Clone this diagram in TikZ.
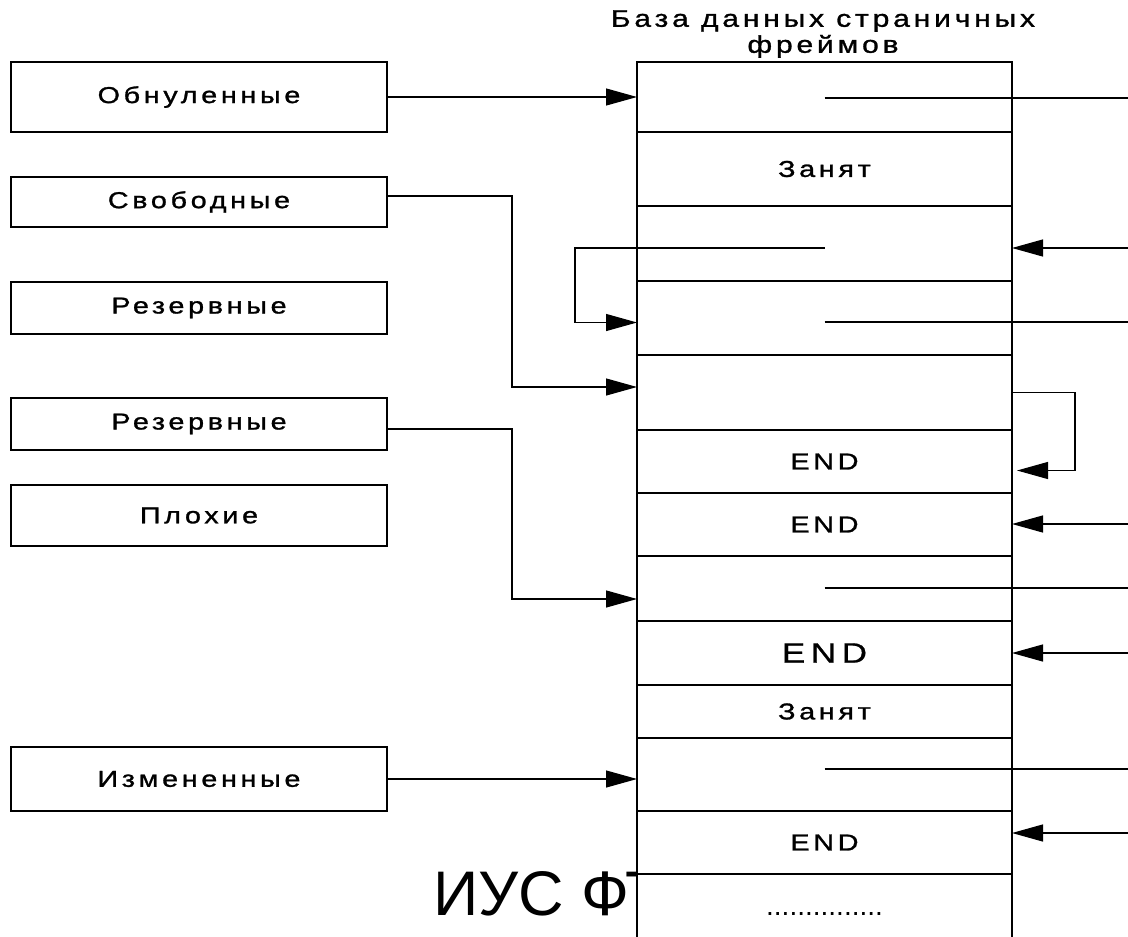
\documentclass[tikz,border=0pt]{standalone}
\usepackage{fontspec}
\setmainfont{Liberation Sans}
\newfontfamily\spc{Liberation Sans}[LetterSpace=16,FakeStretch=1.25,FakeBold=1.2]
\newfontfamily\spcmid{Liberation Sans}[LetterSpace=20,FakeStretch=1.25,FakeBold=0.8]
\usetikzlibrary{arrows.meta}
\begin{document}
\begin{tikzpicture}[x=1pt,y=-1pt,
  lst/.style={draw,line width=1.2pt,minimum width=376pt,inner sep=0pt,outer sep=0pt,
    font=\spc\fontsize{23}{27}\selectfont},
  frame/.style={draw,fill=white,line width=1.2pt,minimum width=375pt,inner sep=0pt,outer sep=0pt,
    font=\spc\fontsize{23}{27}\selectfont},
  link/.style={line width=1.2pt},
  arr/.style={line width=1.2pt,-{Triangle[length=31pt,width=17pt]}}]
\clip (0,0) rectangle (1128,937);
\fill[white] (0,0) rectangle (1128,937);

% heading of the frame database
\node[align=center,font=\spc\fontsize{24}{26}\selectfont] (title) at (823,34)
  {База данных страничных\\фреймов};

% large caption, partly hidden behind the column
\node[anchor=base west,inner sep=0pt,font=\fontsize{63}{70}\selectfont] (cap) at (433,915) {ИУС ФТ};

% page lists
\node[lst,minimum height=70pt] (obn)  at (199,97)  {Обнуленные};
\node[lst,minimum height=50pt] (svob) at (199,202) {Свободные};
\node[lst,minimum height=52pt] (rez1) at (199,308) {Резервные};
\node[lst,minimum height=52pt] (rez2) at (199,424) {Резервные};
\node[lst,minimum height=61pt] (bad)  at (199,515.5) {Плохие};
\node[lst,minimum height=64pt] (izm)  at (199,779) {Измененные};

% column of page frames
\node[frame,minimum height=70pt] (r1)  at (824.5,97)   {};
\node[frame,minimum height=74pt] (r2)  at (824.5,169)  {Занят};
\node[frame,minimum height=75pt] (r3)  at (824.5,243.5) {};
\node[frame,minimum height=74pt] (r4)  at (824.5,318)  {};
\node[frame,minimum height=75pt] (r5)  at (824.5,392.5) {};
\node[frame,minimum height=63pt] (r6)  at (824.5,461.5) {END};
\node[frame,minimum height=63pt] (r7)  at (824.5,524.5) {END};
\node[frame,minimum height=65pt] (r8)  at (824.5,588.5) {};
\node[frame,minimum height=64pt,font=\spcmid\fontsize{28}{32}\selectfont] (r9) at (824.5,653) {END};
\node[frame,minimum height=53pt] (r10) at (824.5,711.5) {Занят};
\node[frame,minimum height=73pt] (r11) at (824.5,774.5) {};
\node[frame,minimum height=63pt] (r12) at (824.5,842.5) {END};
\node[frame,minimum height=80pt,font=\fontsize{28}{32}\selectfont] (r13) at (824.5,914) {...............};

% free ends at the right border
\coordinate (e1)  at (1128,98);
\coordinate (e3)  at (1128,248);
\coordinate (e4)  at (1128,322);
\coordinate (e7)  at (1128,524);
\coordinate (e8)  at (1128,588);
\coordinate (e9)  at (1128,653);
\coordinate (e11) at (1128,769);
\coordinate (e12) at (1128,833);

% list heads into the column
\draw[arr] (obn.east) -- (obn.east -| r1.west);
\draw[arr] ([yshift=6pt]svob.east) -| ([xshift=-125pt,yshift=5.5pt]r5.west) -- ([yshift=5.5pt]r5.west);
\draw[arr] ([yshift=-5pt]rez2.east) -| ([xshift=-125pt,yshift=-10.5pt]r8.west) -- ([yshift=-10.5pt]r8.west);
\draw[arr] (izm.east) -- (izm.east -| r11.west);

% links between frames
\draw[link] ([yshift=-1pt]r1.center) -- (e1);
\draw[arr] (e3) -- (e3 -| r3.east);
\draw[arr] ([yshift=-4.5pt]r3.center) -| ([xshift=-62pt,yshift=-4.5pt]r4.west) -- ([yshift=-4.5pt]r4.west);
\draw[link] ([yshift=-4pt]r4.center) -- (e4);
\draw[arr] (r5.east) -- ++(63,0) |- ([xshift=5pt,yshift=-9pt]r6.east);
\draw[arr] (e7) -- (e7 -| r7.east);
\draw[link] ([yshift=0.5pt]r8.center) -- (e8);
\draw[arr] (e9) -- (e9 -| r9.east);
\draw[link] ([yshift=5.5pt]r11.center) -- (e11);
\draw[arr] (e12) -- (e12 -| r12.east);
\end{tikzpicture}
\end{document}
